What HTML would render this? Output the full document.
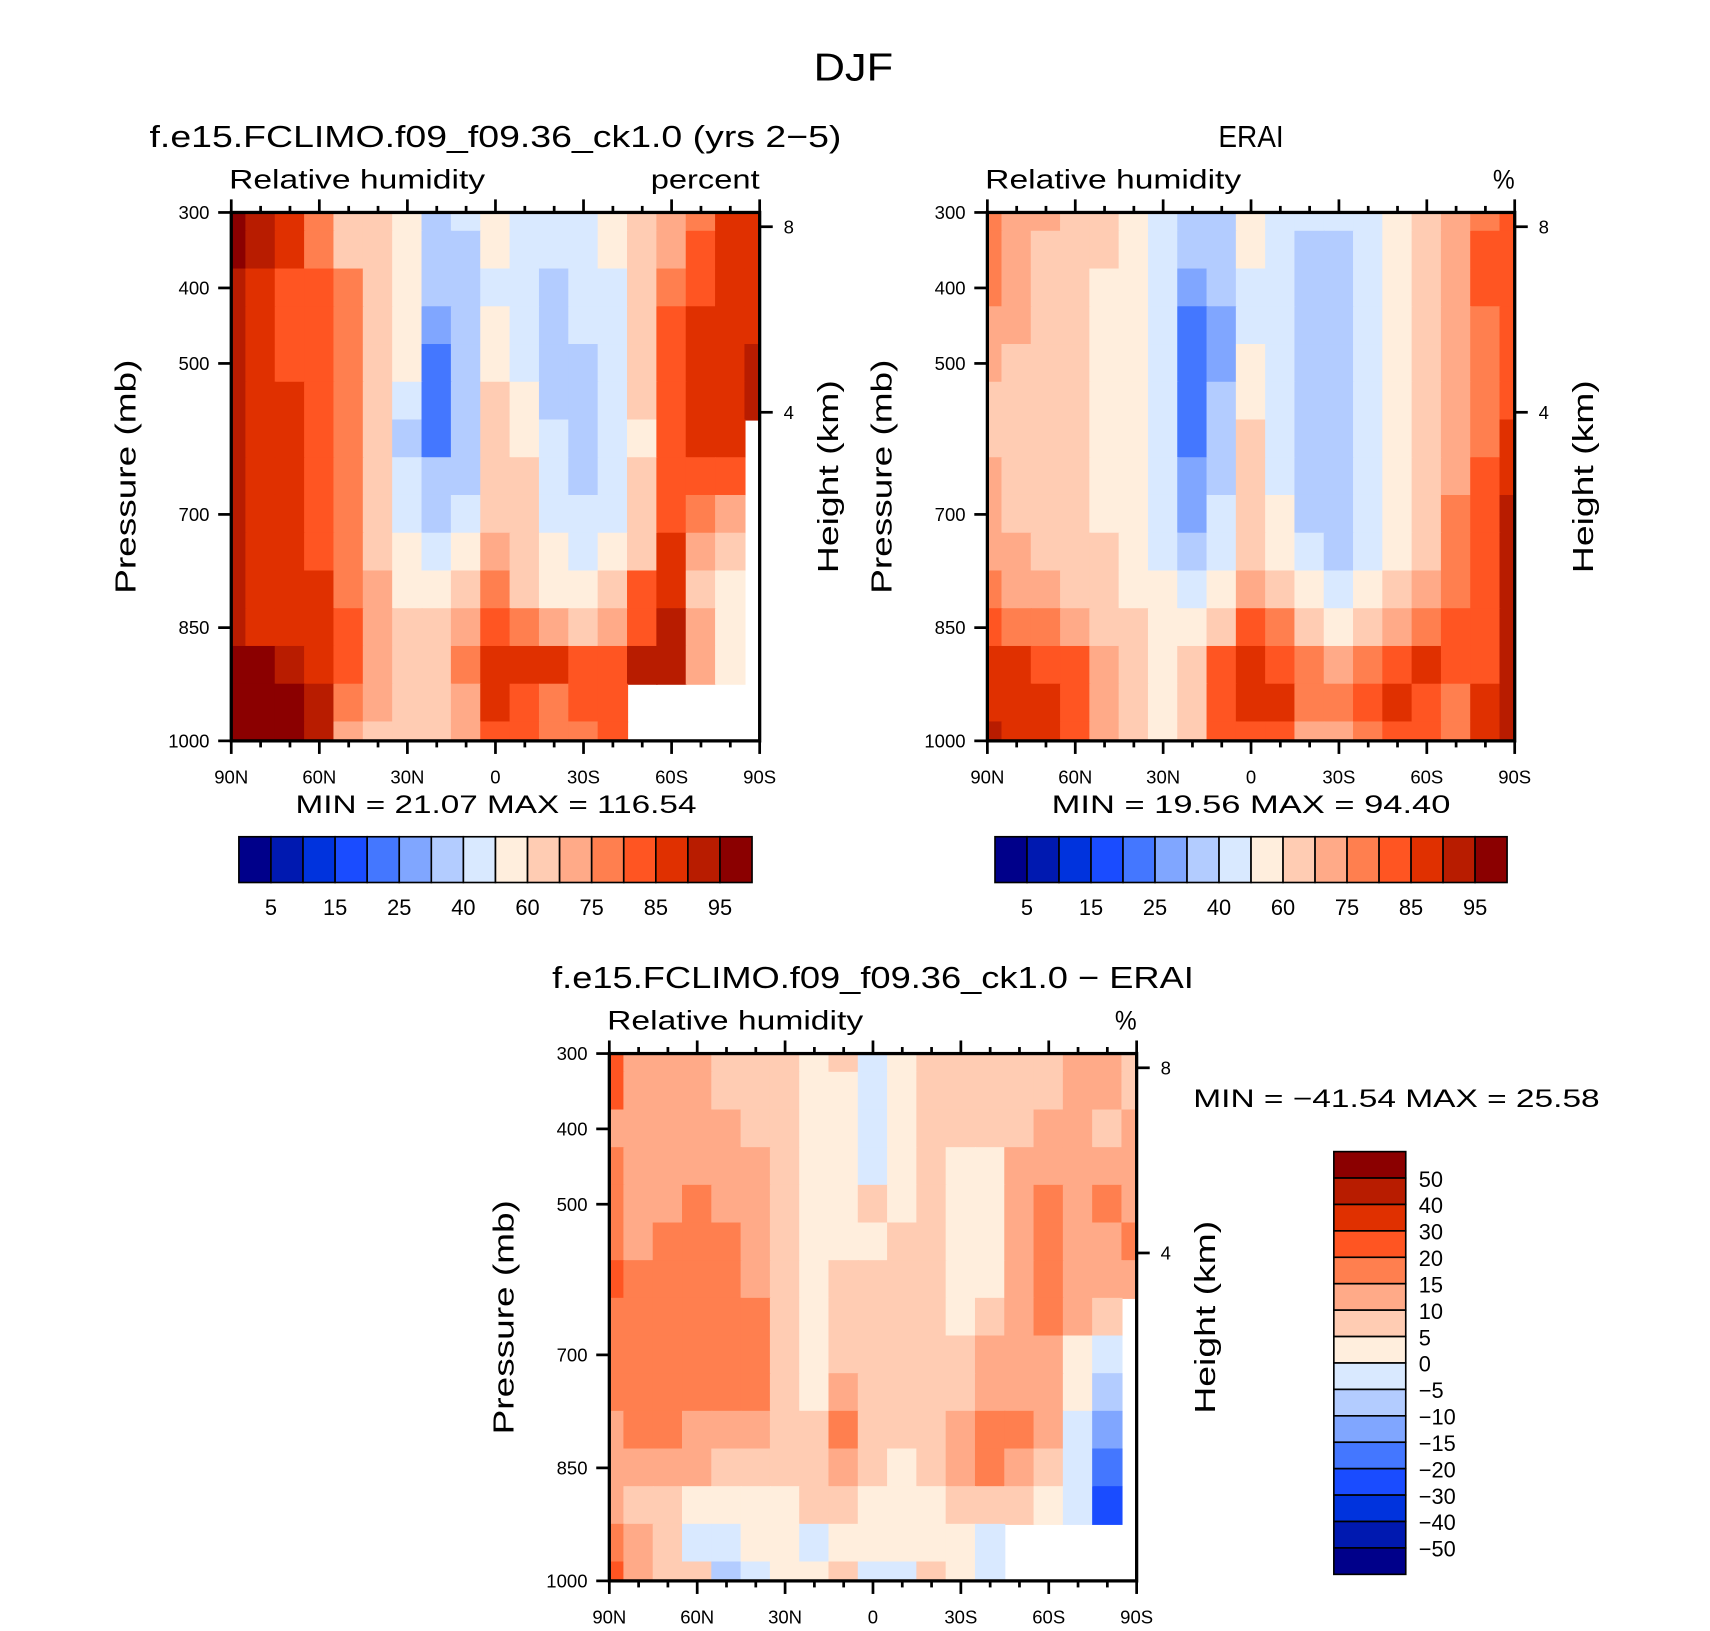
<!DOCTYPE html>
<html><head><meta charset="utf-8"><style>
html,body{margin:0;padding:0;background:#fff}
svg{display:block}
text{font-family:"Liberation Sans","DejaVu Sans",sans-serif;fill:#000}
</style></head><body>
<svg id="fig" width="1710" height="1631" viewBox="0 0 1569 1497" xmlns="http://www.w3.org/2000/svg">
<text x="783" y="74" font-size="36" text-anchor="middle" textLength="73" lengthAdjust="spacingAndGlyphs">DJF</text>
<g id="p1"></g>
<g id="p2"></g>
<g id="p3"></g>
</svg>
<script>
// ---- data ----
const lats = [90,80,70,60,50,40,30,20,10,0,-10,-20,-30,-40,-50,-60,-70,-80,-90];
const pressures = [300,350,400,450,500,550,600,650,700,750,800,850,900,950,1000];
const rhLevels = [5,10,15,20,25,30,40,50,60,70,75,80,85,90,95];
const rhLabels = ["5","15","25","40","60","75","85","95"];
const diffLevels = [-50,-40,-30,-20,-15,-10,-5,0,5,10,15,20,30,40,50];
const diffLabels = ["50","40","30","20","15","10","5","0","−5","−10","−15","−20","−30","−40","−50"];
const pTicks = [300,400,500,700,850,1000];
const hTicks = [8,4];
const latTickLabels = ["90N","60N","30N","0","30S","60S","90S"];
const palette = ["#00008a","#0019b0","#0033dd","#1a4cff","#4477ff","#80a6ff","#b3ccff","#d9e9ff","#ffeedd","#ffccb3","#ffaa88","#ff7f4f","#ff5522","#e03000","#b81c00","#8b0000"];
const modelRH = [
[97,92,87,75,65,65,50,35,40,55,45,45,45,55,65,70,77,87,87],
[97,92,87,77,65,65,50,35,30,50,45,45,45,55,65,72,82,87,87],
[92,87,82,82,77,65,50,35,35,45,45,35,45,45,60,77,82,87,87],
[92,87,82,82,77,65,50,25,35,50,45,35,40,45,60,80,85,87,87],
[92,87,82,82,77,65,50,22,35,55,45,35,35,45,65,82,87,87,92],
[92,87,85,82,77,62,40,22,35,60,50,38,35,45,60,82,87,87,90],
[92,87,87,82,77,60,35,22,35,65,55,45,35,40,55,82,85,87,null],
[92,87,87,82,77,65,40,30,35,65,60,45,35,42,60,82,82,80,null],
[92,87,87,82,77,65,45,35,40,65,65,45,40,45,65,82,75,72,null],
[92,87,87,82,77,65,50,40,50,70,62,50,45,50,65,85,70,60,null],
[92,87,87,85,77,72,55,55,65,77,65,55,55,65,80,87,65,55,null],
[92,87,87,87,80,72,65,60,72,82,77,70,65,72,82,92,72,50,null],
[97,97,92,87,80,72,65,65,77,87,87,85,82,82,92,92,72,55,null],
[97,97,97,92,77,72,65,65,72,87,82,77,82,82,null,null,null,null,null],
[97,97,97,90,72,65,62,65,72,82,82,77,77,82,null,null,null,null,null]];
const eraiRH = [
[75,70,70,65,60,55,45,35,35,55,45,40,40,45,55,65,70,75,80],
[75,70,68,65,60,55,45,30,32,50,45,38,38,45,55,65,72,80,80],
[78,70,68,62,58,55,42,25,30,45,45,35,35,42,55,65,72,80,82],
[72,70,65,62,58,55,40,22,28,45,45,35,33,42,55,65,72,78,82],
[70,68,65,60,58,55,40,20,28,55,45,32,32,40,55,65,72,78,82],
[68,65,62,60,58,55,40,22,30,58,45,32,32,40,55,65,72,78,82],
[68,65,62,60,58,55,40,22,32,60,45,32,32,40,55,65,72,78,85],
[70,65,62,60,58,55,42,25,35,62,48,32,32,40,55,65,72,80,88],
[70,68,65,60,58,55,42,28,40,62,50,35,32,42,55,65,75,80,90],
[72,70,68,62,60,55,45,35,45,65,58,40,35,45,58,68,75,82,90],
[75,72,70,65,62,58,50,45,55,70,65,50,42,50,62,72,78,82,90],
[80,78,75,70,65,60,55,55,65,80,75,62,55,62,70,78,80,82,90],
[85,85,82,80,70,62,58,62,80,88,82,75,72,75,82,85,80,82,90],
[88,88,85,82,72,62,58,62,82,88,85,75,75,82,88,82,78,85,92],
[90,88,85,82,72,62,58,62,80,80,80,72,72,75,82,80,78,85,92]];
const diffRH = [
[25,12,12,12,8,8,8,3,8,-3,3,8,8,8,8,8,12,12,8],
[20,12,12,12,8,8,8,3,3,-3,3,8,8,8,8,8,12,12,8],
[12,12,12,12,12,8,8,3,3,-3,3,8,8,8,8,12,12,8,12],
[15,12,12,12,12,12,8,3,3,-3,3,8,3,3,12,12,12,12,12],
[17,12,12,17,12,12,8,3,3,8,3,8,3,3,12,17,12,17,12],
[17,12,15,17,17,12,8,3,3,3,8,8,3,3,12,17,12,12,17],
[25,17,17,17,17,12,8,3,8,8,8,8,3,3,12,17,12,12,12],
[17,17,17,17,17,15,8,3,8,8,8,8,3,8,12,17,12,8,null],
[17,17,17,17,17,17,8,3,8,8,8,8,8,12,12,12,3,-3,null],
[15,17,17,17,17,15,8,3,12,8,8,8,8,12,12,12,3,-8,null],
[12,17,17,12,12,12,8,8,17,8,8,8,12,17,17,12,-3,-15,null],
[12,12,12,12,8,8,8,8,12,8,3,8,12,17,12,8,-3,-20,null],
[12,8,8,3,3,3,3,8,8,3,3,3,8,8,8,3,-5,-25,null],
[17,12,8,-3,-3,3,3,-3,3,3,3,3,3,-3,null,null,null,null,null],
[25,12,8,8,-8,-3,3,3,8,-3,-3,8,3,-3,null,null,null,null,null]];

const NS="http://www.w3.org/2000/svg";
function mk(parent,tag,attrs,txt){const e=document.createElementNS(NS,tag);for(const k in attrs)e.setAttribute(k,attrs[k]);if(txt!==undefined)e.textContent=txt;parent.appendChild(e);return e;}
function colorFor(v,levels){let i=0;while(i<levels.length&&v>=levels[i])i++;return palette[i];}
function hToP(h){return 1000*Math.exp(-h/7);}
const LA='spacingAndGlyphs';

function panel(g,X0,Y0,W,H,grid,levels,o){
  const xS=lat=>X0+(90-lat)/180*W;
  const yS=p=>Y0+(p-300)/700*H;
  const cells=mk(g,'g',{});
  
  
  for(let r=0;r<pressures.length;r++)for(let c=0;c<lats.length;c++){
    const v=grid[r][c]; if(v===null)continue;
    const x1=xS(Math.min(90,lats[c]+5)),x2=xS(Math.max(-90,lats[c]-5));
    const y1=yS(Math.max(300,pressures[r]-25)),y2=yS(Math.min(1000,pressures[r]+25));
    const rc=mk(cells,'rect',{x:x1-0.5,y:y1-0.5,width:x2-x1+1,height:y2-y1+1,fill:colorFor(v,levels)});
    
    
  }
  const fr=mk(g,'rect',{x:X0,y:Y0,width:W,height:H,fill:'none',stroke:'#000','stroke-width':3});
  
  
  const ax=mk(g,'g',{stroke:'#000','stroke-width':2.5});
  
  
  for(let lat=90;lat>=-90;lat-=10){const x=xS(lat);const L=(lat%30===0)?12:6;
    mk(ax,'line',{x1:x,x2:x,y1:Y0,y2:Y0-L});mk(ax,'line',{x1:x,x2:x,y1:Y0+H,y2:Y0+H+L});}
  latTickLabels.forEach((t,i)=>{const lb=mk(g,'text',{x:xS(90-30*i),y:Y0+H+39,'font-size':17,'text-anchor':'middle'},t);
    });
  pTicks.forEach(p=>{mk(ax,'line',{x1:X0,x2:X0-12,y1:yS(p),y2:yS(p)});
    const lb=mk(g,'text',{x:X0-20,y:yS(p)+6,'font-size':17,'text-anchor':'end'},String(p));
    });
  hTicks.forEach(h=>{const y=yS(hToP(h));mk(ax,'line',{x1:X0+W,x2:X0+W+12,y1:y,y2:y});
    const lb=mk(g,'text',{x:X0+W+22,y:y+6,'font-size':17},String(h));
    });
  let t=mk(g,'text',{x:X0-88,y:Y0+H/2,'font-size':26,'text-anchor':'middle',textLength:215,lengthAdjust:LA,transform:`rotate(-90 ${X0-88} ${Y0+H/2})`},'Pressure (mb)');
  
  t=mk(g,'text',{x:X0+W+72,y:Y0+H/2,'font-size':26,'text-anchor':'middle',textLength:177,lengthAdjust:LA,transform:`rotate(-90 ${X0+W+72} ${Y0+H/2})`},'Height (km)');
  
  t=mk(g,'text',{x:X0-2,y:Y0-22,'font-size':25,textLength:235,lengthAdjust:LA},'Relative humidity');
  
  t=mk(g,'text',{x:X0+W,y:Y0-22,'font-size':25,'text-anchor':'end',textLength:o.uw,lengthAdjust:LA},o.units);
  
  t=mk(g,'text',{x:X0+W/2,y:Y0-60,'font-size':28,'text-anchor':'middle',textLength:o.tw,lengthAdjust:LA},o.title);
  
  t=mk(g,'text',{x:o.mmX,y:o.mmY,'font-size':23,'text-anchor':o.mmA,textLength:o.mw,lengthAdjust:LA},o.minmax);
  
}
function hbar(g,x0,y0,w,h){
  const cb=mk(g,'g',{});
  const bw=w/palette.length;
  palette.forEach((c,i)=>{const r=mk(cb,'rect',{x:x0+i*bw,y:y0,width:bw,height:h,fill:c,stroke:'#000','stroke-width':1.5});
    });
  rhLabels.forEach((l,i)=>{const t=mk(cb,'text',{x:x0+(2*i+1)*bw,y:y0+h+30,'font-size':20,'text-anchor':'middle'},l);
    });
}
function vbar(g,x0,y0,w,h){
  const cb=mk(g,'g',{});
  const bh=h/palette.length;
  palette.slice().reverse().forEach((c,i)=>{const r=mk(cb,'rect',{x:x0,y:y0+i*bh,width:w,height:bh,fill:c,stroke:'#000','stroke-width':1.5});
    });
  diffLabels.forEach((l,i)=>{const t=mk(cb,'text',{x:x0+w+12,y:y0+(i+1)*bh+8,'font-size':20},l);
    });
}
const p1=document.getElementById('p1'),p2=document.getElementById('p2'),p3=document.getElementById('p3');
panel(p1,212,195,485,485,modelRH,rhLevels,{units:'percent',uw:100,title:'f.e15.FCLIMO.f09_f09.36_ck1.0 (yrs 2−5)',tw:635,minmax:'MIN =   21.07   MAX = 116.54',mw:368,mmX:455,mmY:746,mmA:'middle'});
hbar(p1,219,768,471,42);
panel(p2,906,195,484,485,eraiRH,rhLevels,{units:'%',uw:20,title:'ERAI',tw:60,minmax:'MIN =   19.56   MAX =   94.40',mw:366,mmX:1148,mmY:746,mmA:'middle'});
hbar(p2,913,768,470,42);
panel(p3,559,967,484,484,diffRH,diffLevels,{units:'%',uw:20,title:'f.e15.FCLIMO.f09_f09.36_ck1.0 − ERAI',tw:589,minmax:'MIN = −41.54   MAX =   25.58',mw:373,mmX:1095,mmY:1016,mmA:'start'});
vbar(p3,1224,1057,66,388);
</script>
</body></html>
